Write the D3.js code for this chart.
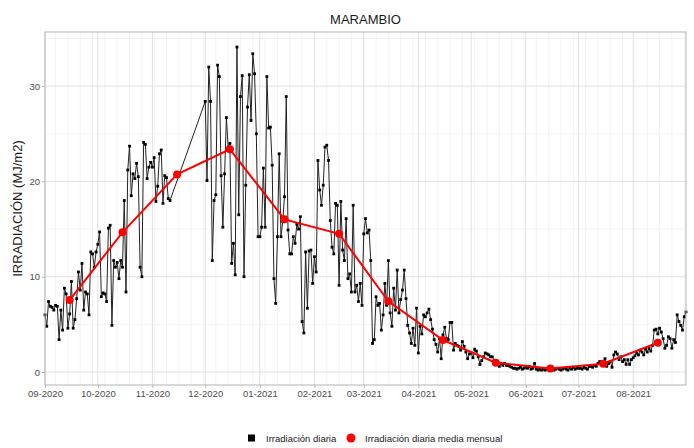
<!DOCTYPE html>
<meta charset="utf-8">
<style>
body { margin: 0; background: #fff; }
text { font-family: "Liberation Sans", Arial, sans-serif; }
.grid-major line { stroke: #dedede; stroke-width: 0.9px; }
.grid-minor line { stroke: #ebebeb; stroke-width: 0.6px; }
.axis path { display: none; }
.axis line { stroke: #b3b3b3; }
.axis text { fill: #4d4d4d; font-size: 9.5px; }
</style>
<svg width="694" height="448"></svg>
<script src="https://d3js.org/d3.v7.min.js"></script>
<script>

// daily irradiation (MJ/m2), one array per month
var sep20 = [6.0,4.8,7.4,6.9,6.8,6.5,7.0,6.9,3.4,6.5,4.4,8.8,8.2,4.6,6.1,9.5,4.6,5.5,7.7,10.5,8.6,11.4,6.5,8.4,8.2,6.0,12.6,12.4,11.0,12.6];
var oct20 = [13.4,14.7,7.9,8.3,8.2,7.4,15.1,15.4,4.9,11.7,11.0,11.5,9.8,11.7,11.0,18.0,8.4,21.2,23.7,18.5,20.8,20.3,21.9,20.5,11.0,10.0,24.1,23.9,20.3,21.5,22.0];
var nov20 = [21.5,22.5,17.9,19.5,22.9,23.3,17.7,20.6,20.4,18.2,18.0]; // no data after Nov 11
var dec20 = [28.4,20.1,32.0,28.4,11.7,18.0,18.6,32.2,31.0,20.6,15.2,20.8,26.7,23.6,24.0,11.4,13.5,10.2,34.1,16.5,28.9,31.1,10.0,19.6,27.8,31.2,26.4,33.4,31.3,25.0,14.2];
var jan21 = [14.2,15.2,21.4,15.2,31.0,25.6,25.7,21.7,9.8,7.2,14.2,22.9,14.2,15.8,18.4,28.9,14.9,12.4,12.4,14.2,13.5,15.5,15.0,16.3,5.3,4.1,12.6,6.7,12.7,12.8,9.3];
var feb21 = [12.1,10.5,22.2,19.1,17.5,19.6,23.6,23.8,22.2,15.9,13.1,12.4,17.7,17.5,9.1,17.9,12.8,11.7,16.1,9.8,10.3,8.4,17.5,8.4,9.1,7.4,9.3,7.0];
var mar21 = [14.5,16.1,14.6,14.9,11.7,3.0,3.4,7.9,7.0,7.2,4.4,6.0,9.3,7.0,11.7,6.2,4.8,8.8,6.5,10.7,6.2,7.6,8.6,10.7,7.7,4.9,4.1,3.0,4.6,2.8,6.7];
var apr21 = [2.0,4.8,4.0,6.0,5.8,6.2,6.6,5.5,4.5,3.4,2.9,2.1,3.5,1.4,3.9,4.7,3.5,3.4,5.2,5.2,2.3,3.0,2.8,2.7,2.3,3.2,2.7,2.1,1.4,1.9];
var may21 = [2.0,1.5,2.4,2.2,1.6,0.8,1.2,1.6,2.0,1.9,1.8,1.6,1.6,1.2,1.1,0.9,0.6,0.9,0.7,0.9,0.7,0.7,0.6,0.5,0.4,0.4,0.3,0.4,0.5,0.3,0.4];
var jun21 = [0.5,0.4,0.6,0.3,0.4,0.9,0.3,0.2,0.3,0.2,0.3,0.2,0.3,0.4,0.2,0.3,0.2,0.3,0.4,0.3,0.2,0.3,0.4,0.3,0.2,0.4,0.3,0.5,0.3,0.4];
var jul21 = [0.4,0.4,0.3,0.5,0.4,0.3,0.6,0.6,0.5,0.7,0.6,0.9,1.1,0.9,1.0,1.4,0.6,0.9,1.1,0.5,1.8,2.1,1.9,1.3,1.6,1.1,1.3,0.8,1.3,0.8,1.3];
var aug21 = [1.5,1.7,2.0,1.8,2.3,2.1,1.8,2.4,2.1,2.5,2.2,2.8,4.4,4.5,4.0,4.6,4.2,3.5,2.5,2.8,3.7,3.5,2.5,3.4,3.1,6.0,5.3,4.9,4.4,5.8,6.3];

var monthStarts = ["2020-09-01","2020-10-01","2020-11-01","2020-12-01","2021-01-01","2021-02-01",
                   "2021-03-01","2021-04-01","2021-05-01","2021-06-01","2021-07-01","2021-08-01"];
var dailyByMonth = [sep20, oct20, nov20, dec20, jan21, feb21, mar21, apr21, may21, jun21, jul21, aug21];

// monthly mean of daily irradiation, plotted mid-month
var monthlyMean = [7.55, 14.66, 20.74, 23.37, 16.02, 14.51, 7.42, 3.36, 0.98, 0.37, 0.87, 3.07];

var yTicks = [0, 10, 20, 30];
var xTickLabels = ["09-2020","10-2020","11-2020","12-2020","01-2021","02-2021",
                   "03-2021","04-2021","05-2021","06-2021","07-2021","08-2021"];

var parse = d3.timeParse("%Y-%m-%d");

var daily = [];
dailyByMonth.forEach(function(vals, i) {
  var start = parse(monthStarts[i]);
  vals.forEach(function(v, k) {
    daily.push({date: d3.timeDay.offset(start, k), value: v});
  });
});
var monthly = monthlyMean.map(function(v, i) {
  return {date: d3.timeDay.offset(parse(monthStarts[i]), 14), value: v};
});

var svg = d3.select("svg"),
    margin = {top: 32, right: 8, bottom: 63, left: 45},
    width = +svg.attr("width") - margin.left - margin.right,
    height = +svg.attr("height") - margin.top - margin.bottom;

var x = d3.scaleTime()
    .domain([parse("2020-09-01"), parse("2021-08-31")])
    .range([0, width]);
var y = d3.scaleLinear().domain([-1.36, 35.68]).range([height, 0]);

var g = svg.append("g")
    .attr("transform", "translate(" + margin.left + "," + margin.top + ")");

g.append("rect").attr("width", width).attr("height", height).attr("fill", "#fff");

// minor grid
var weeks = d3.timeMonday.range(x.domain()[0], d3.timeDay.offset(x.domain()[1], 1));
g.append("g").attr("class", "grid-minor")
  .selectAll("line").data(weeks).enter().append("line")
    .attr("x1", d => x(d)).attr("x2", d => x(d))
    .attr("y1", 0).attr("y2", height);
g.append("g").attr("class", "grid-minor")
  .selectAll("line").data([5, 15, 25, 35]).enter().append("line")
    .attr("x1", 0).attr("x2", width)
    .attr("y1", d => y(d)).attr("y2", d => y(d));

// major grid
var monthDates = monthStarts.map(parse);
g.append("g").attr("class", "grid-major")
  .selectAll("line").data(monthDates).enter().append("line")
    .attr("x1", d => x(d)).attr("x2", d => x(d))
    .attr("y1", 0).attr("y2", height);
g.append("g").attr("class", "grid-major")
  .selectAll("line").data(yTicks).enter().append("line")
    .attr("x1", 0).attr("x2", width)
    .attr("y1", d => y(d)).attr("y2", d => y(d));

// daily series
var line = d3.line().x(d => x(d.date)).y(d => y(d.value));
g.append("path").datum(daily)
    .attr("fill", "none")
    .attr("stroke", "#222")
    .attr("stroke-width", 1)
    .attr("d", line);
g.append("g").selectAll("rect").data(daily).enter().append("rect")
    .attr("x", d => x(d.date) - 1.4)
    .attr("y", d => y(d.value) - 1.4)
    .attr("width", 2.8).attr("height", 2.8)
    .attr("fill", "#000");

// monthly mean series
g.append("path").datum(monthly)
    .attr("fill", "none")
    .attr("stroke", "#ff0000")
    .attr("stroke-width", 2)
    .attr("d", line);
g.append("g").selectAll("circle").data(monthly).enter().append("circle")
    .attr("cx", d => x(d.date))
    .attr("cy", d => y(d.value))
    .attr("r", 4)
    .attr("fill", "#ff0000");

// panel border
g.append("rect").attr("width", width).attr("height", height)
    .attr("fill", "none").attr("stroke", "#b3b3b3").attr("stroke-width", 1);

// axes
g.append("g")
    .attr("class", "axis")
    .attr("transform", "translate(0," + height + ")")
    .call(d3.axisBottom(x).tickValues(monthDates).tickSize(3).tickPadding(2)
      .tickFormat(function(d, i) { return xTickLabels[i]; }));
g.append("g")
    .attr("class", "axis")
    .call(d3.axisLeft(y).tickValues(yTicks).tickSize(3).tickPadding(2));

// titles
svg.append("text")
    .attr("x", margin.left + width / 2).attr("y", 24)
    .attr("text-anchor", "middle")
    .style("font-size", "13px").style("fill", "#1a1a1a")
    .text("MARAMBIO");
svg.append("text")
    .attr("transform", "translate(22," + (margin.top + height / 2) + ") rotate(-90)")
    .attr("text-anchor", "middle")
    .style("font-size", "13px").style("fill", "#1a1a1a")
    .text("IRRADIACIÓN (MJ/m2)");

// legend
var legend = svg.append("g").attr("transform", "translate(0,438)");
legend.append("rect").attr("x", 248).attr("y", -3.5).attr("width", 7).attr("height", 7).attr("fill", "#000");
legend.append("text").attr("x", 266).attr("y", 3.5).style("font-size", "9.5px").style("fill", "#1a1a1a")
    .text("Irradiación diaria");
legend.append("circle").attr("cx", 351).attr("cy", 0).attr("r", 4.5).attr("fill", "#ff0000");
legend.append("text").attr("x", 365).attr("y", 3.5).style("font-size", "9.5px").style("fill", "#1a1a1a")
    .text("Irradiación diaria media mensual");

</script>
